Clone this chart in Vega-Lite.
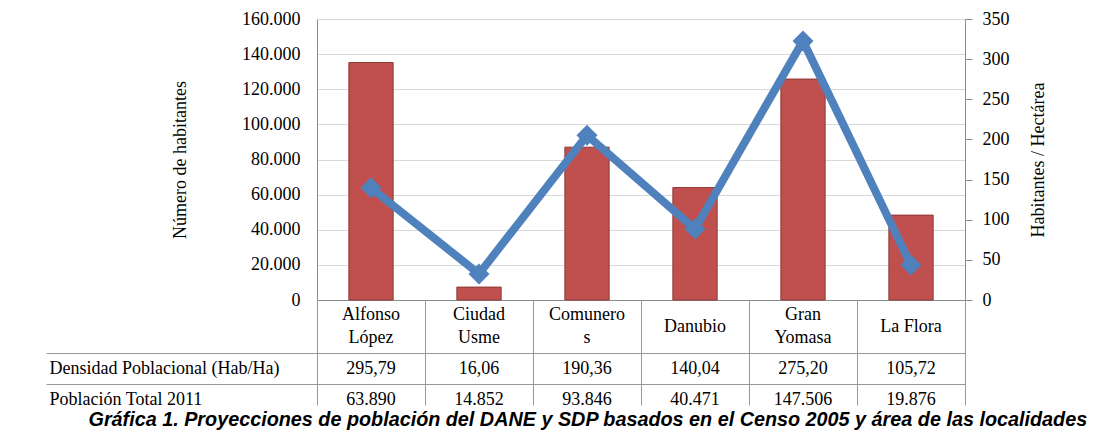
{
  "$schema": "https://vega.github.io/schema/vega-lite/v6.json",
  "padding": {"left": 45, "top": 10, "right": 0, "bottom": 0},
  "background": "white",
  "config": {
    "locale": {"number": {"decimal": ",", "thousands": ".", "grouping": [3], "currency": ["$", ""]}},
    "view": {"stroke": null},
    "font": "Liberation Serif",
    "axis": {
      "labelFont": "Liberation Serif", "titleFont": "Liberation Serif",
      "labelColor": "#000", "titleColor": "#000",
      "labelFontSize": 18, "titleFontSize": 18, "titleFontWeight": "normal",
      "domainColor": "#8c8c8c", "tickColor": "#8c8c8c", "gridColor": "#d9d9d9"
    }
  },
  "datasets": {
    "localidades": [
      {"localidad": "Alfonso López", "etiqueta": "Alfonso\nLópez", "densidad": 295.79, "poblacion": 63890},
      {"localidad": "Ciudad Usme", "etiqueta": "Ciudad\nUsme", "densidad": 16.06, "poblacion": 14852},
      {"localidad": "Comuneros", "etiqueta": "Comunero\ns", "densidad": 190.36, "poblacion": 93846},
      {"localidad": "Danubio", "etiqueta": "Danubio", "densidad": 140.04, "poblacion": 40471},
      {"localidad": "Gran Yomasa", "etiqueta": "Gran\nYomasa", "densidad": 275.20, "poblacion": 147506},
      {"localidad": "La Flora", "etiqueta": "La Flora", "densidad": 105.72, "poblacion": 19876}
    ]
  },
  "title": {
    "text": "Gráfica 1. Proyecciones de población del DANE y SDP basados en el Censo 2005 y área de las localidades",
    "orient": "bottom", "anchor": "start", "frame": "bounds", "dx": 43,
    "font": "Liberation Sans", "fontSize": 19.8, "fontWeight": "bold", "fontStyle": "italic",
    "color": "#000", "offset": -5
  },
  "spacing": 0,
  "bounds": "flush",
  "vconcat": [
    {
      "width": 648, "height": 281,
      "data": {"name": "localidades"},
      "encoding": {
        "x": {"field": "localidad", "type": "nominal",
              "scale": {"domain": ["Alfonso López", "Ciudad Usme", "Comuneros", "Danubio", "Gran Yomasa", "La Flora"], "paddingInner": 0, "paddingOuter": 0},
              "axis": {"labels": false, "ticks": false, "title": null, "domainColor": "#8c8c8c"}}
      },
      "layer": [
        {
          "mark": {"type": "bar", "width": {"band": 0.41}, "color": "#c0504d", "stroke": "#8c3836", "strokeWidth": 1},
          "encoding": {
            "y": {"field": "densidad", "type": "quantitative",
                  "scale": {"domain": [0, 350]},
                  "axis": {"orient": "right", "title": "Habitantes / Hectárea", "titleAngle": 270,
                           "values": [0, 50, 100, 150, 200, 250, 300, 350], "grid": false,
                           "tickSize": 7, "labelPadding": 10, "titlePadding": 38}}
          }
        },
        {
          "mark": {"type": "line", "color": "#4f81bd", "strokeWidth": 8,
                   "point": {"shape": "diamond", "size": 440, "filled": true, "color": "#4f81bd", "opacity": 1}},
          "encoding": {
            "y": {"field": "poblacion", "type": "quantitative",
                  "scale": {"domain": [0, 160000]},
                  "axis": {"orient": "left", "title": "Número de habitantes",
                           "values": [0, 20000, 40000, 60000, 80000, 100000, 120000, 140000, 160000],
                           "format": ",d", "grid": true, "ticks": false, "labelPadding": 17, "titlePadding": 52}}
          }
        }
      ],
      "resolve": {"scale": {"y": "independent"}}
    },
    {
      "width": 648, "height": 53,
      "data": {"name": "localidades"},
      "encoding": {
        "x": {"field": "localidad", "type": "nominal",
              "scale": {"domain": ["Alfonso López", "Ciudad Usme", "Comuneros", "Danubio", "Gran Yomasa", "La Flora"], "paddingInner": 0, "paddingOuter": 0},
              "axis": {"labels": false, "ticks": false, "domain": false, "title": null,
                       "grid": true, "tickBand": "extent", "gridColor": "#999999"}},
        "text": {"field": "etiqueta"}
      },
      "layer": [
        {
          "transform": [{"filter": "indexof(datum.etiqueta, '\\n') >= 0"}],
          "mark": {"type": "text", "lineBreak": "\n", "fontSize": 18, "font": "Liberation Serif", "lineHeight": 23, "dy": -11.5, "color": "#000"}
        },
        {
          "transform": [{"filter": "indexof(datum.etiqueta, '\\n') < 0"}],
          "mark": {"type": "text", "fontSize": 18, "font": "Liberation Serif", "color": "#000"}
        }
      ]
    },
    {
      "width": 648, "height": 52,
      "data": {"name": "localidades"},
      "encoding": {
        "x": {"field": "localidad", "type": "nominal",
              "scale": {"domain": ["Alfonso López", "Ciudad Usme", "Comuneros", "Danubio", "Gran Yomasa", "La Flora"], "paddingInner": 0, "paddingOuter": 0},
              "axis": {"labels": false, "ticks": false, "domain": false, "title": null,
                       "grid": true, "tickBand": "extent", "gridColor": "#999999"}}
      },
      "layer": [
        {
          "mark": {"type": "text", "clip": true, "fontSize": 18, "font": "Liberation Serif", "color": "#000"},
          "encoding": {
            "y": {"datum": "Densidad Poblacional (Hab/Ha)", "type": "nominal",
                  "scale": {"domain": ["Densidad Poblacional (Hab/Ha)", "Población Total 2011"],
                            "range": [0, 62], "paddingInner": 0, "paddingOuter": 0},
                  "axis": {"orient": "left", "title": null, "tickOffset": -15.5, "labelOffset": 15.5,
                           "labelAlign": "left", "labelPadding": -3, "labelLimit": 0,
                           "tickSize": 271, "tickColor": "#999999", "grid": true, "gridColor": "#999999",
                           "domain": false}},
            "text": {"field": "densidad", "type": "quantitative", "format": ",.2f"}
          }
        },
        {
          "mark": {"type": "text", "clip": true, "fontSize": 18, "font": "Liberation Serif", "color": "#000"},
          "encoding": {
            "y": {"datum": "Población Total 2011", "type": "nominal"},
            "text": {"field": "poblacion", "type": "quantitative", "format": ",d"}
          }
        }
      ]
    }
  ]
}
